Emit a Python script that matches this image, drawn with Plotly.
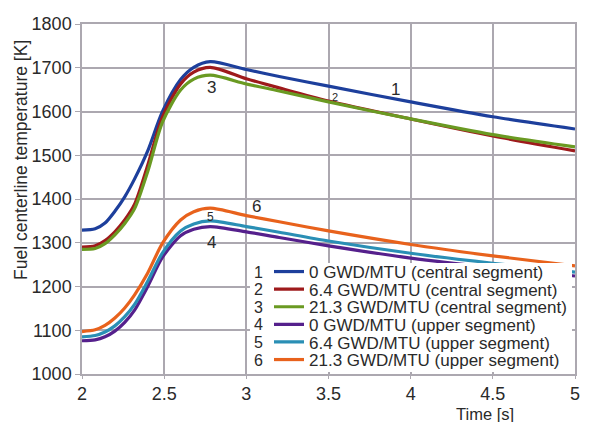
import plotly.graph_objects as go

# ---------------- data ----------------
time_s = [2.0, 2.08, 2.14, 2.2, 2.26, 2.32, 2.4, 2.49, 2.6, 2.68, 2.78, 3.0, 3.2, 3.5, 4.0, 4.5, 5.0]

central_0 = [1329, 1332, 1345, 1372, 1405, 1446, 1510, 1600, 1673, 1701, 1714, 1696, 1680, 1658, 1622, 1588, 1560]
central_64 = [1290, 1293, 1305, 1325, 1352, 1388, 1477, 1588, 1663, 1690, 1701, 1675, 1654, 1624, 1583, 1544, 1510]
central_213 = [1285, 1287, 1298, 1318, 1344, 1378, 1463, 1576, 1649, 1674, 1683, 1663, 1647, 1622, 1583, 1547, 1519]
upper_0 = [1076, 1078, 1085, 1098, 1118, 1146, 1200, 1267, 1316, 1331, 1337, 1325, 1312, 1293, 1265, 1243, 1224]
upper_64 = [1085, 1088, 1096, 1110, 1131, 1159, 1212, 1277, 1327, 1343, 1350, 1337, 1324, 1304, 1276, 1253, 1233]
upper_213 = [1097, 1101, 1111, 1128, 1151, 1181, 1231, 1299, 1352, 1371, 1379, 1362, 1348, 1327, 1296, 1270, 1247]

series_names = [
    "0 GWD/MTU (central segment)",
    "6.4 GWD/MTU (central segment)",
    "21.3 GWD/MTU (central segment)",
    "0 GWD/MTU (upper segment)",
    "6.4 GWD/MTU (upper segment)",
    "21.3 GWD/MTU (upper segment)",
]
series_values = [central_0, central_64, central_213, upper_0, upper_64, upper_213]
series_numbers = ["1", "2", "3", "4", "5", "6"]
series_colors = ["#1d3f9c", "#9e1a1c", "#6a9a22", "#55208c", "#2a8fb5", "#e8621c"]

# in-plot curve labels: (number, time, temperature, size)
curve_labels = [
    ("1", 3.905, 1651, 17),
    ("2", 3.54, 1634, 11),
    ("3", 2.785, 1654, 17),
    ("4", 2.79, 1300, 17),
    ("5", 2.78, 1359, 12),
    ("6", 3.06, 1382, 17),
]

x_ticks = [2, 2.5, 3, 3.5, 4, 4.5, 5]
y_ticks = [1000, 1100, 1200, 1300, 1400, 1500, 1600, 1700, 1800]

# ---------------- figure ----------------
W, H = 592, 422
ML, MR, MT, MB = 82, 17, 24, 48
PW, PH = W - ML - MR, H - MT - MB

FONT = "Liberation Sans, Arial, sans-serif"
TXT = "#2a2a2a"
GRID = "#aca8b0"

def px_x(p):
    return (p - ML) / PW

def px_y(p):
    return (H - MB - p) / PH

fig = go.Figure()

legend_rows_px = [272 + i * 17.6 for i in range(6)]
layout_legends = {}
for i, (name, vals, col) in enumerate(zip(series_names, series_values, series_colors)):
    key = "legend" if i == 0 else f"legend{i + 1}"
    fig.add_trace(go.Scatter(
        x=time_s, y=vals, mode="lines", name=name,
        line=dict(color=col, width=3.2, shape="spline", smoothing=0.8),
        legend=key,
    ))
    layout_legends[key] = dict(
        x=px_x(269), xanchor="left",
        y=px_y(legend_rows_px[i]), yanchor="middle",
        bgcolor="rgba(0,0,0,0)", borderwidth=0,
        font=dict(family=FONT, size=17, color=TXT),
        itemclick=False, itemdoubleclick=False,
    )

annotations = []
for num, t, temp, sz in curve_labels:
    annotations.append(dict(x=t, y=temp, xref="x", yref="y", text=num, showarrow=False,
                            font=dict(family=FONT, size=sz, color=TXT)))
for i, num in enumerate(series_numbers):
    annotations.append(dict(x=px_x(258), y=px_y(legend_rows_px[i]), xref="paper", yref="paper",
                            text=num, showarrow=False, xanchor="center", yanchor="middle",
                            font=dict(family=FONT, size=16, color=TXT)))
annotations.append(dict(x=px_x(485), y=px_y(414), xref="paper", yref="paper", text="Time [s]",
                        showarrow=False, xanchor="center", yanchor="middle",
                        font=dict(family=FONT, size=16.5, color=TXT)))
annotations.append(dict(x=px_x(21), y=px_y(160), xref="paper", yref="paper",
                        text="Fuel centerline temperature [K]", textangle=-90,
                        showarrow=False, xanchor="center", yanchor="middle",
                        font=dict(family=FONT, size=17.5, color=TXT)))

shapes = [
    dict(type="rect", xref="paper", yref="paper", layer="above",
         x0=px_x(250), x1=px_x(572), y0=px_y(372), y1=px_y(263),
         fillcolor="white", line=dict(width=0)),
]

fig.update_layout(
    width=W, height=H,
    margin=dict(l=ML, r=MR, t=MT, b=MB, pad=0),
    paper_bgcolor="white", plot_bgcolor="white",
    font=dict(family=FONT, size=17, color=TXT),
    showlegend=True,
    annotations=annotations,
    shapes=shapes,
    **layout_legends,
)
fig.update_xaxes(
    range=[2, 5], tickvals=x_ticks, ticktext=[f"{v:g}" for v in x_ticks],
    showgrid=True, gridcolor=GRID, gridwidth=1.5,
    showline=True, linecolor=GRID, linewidth=1.5, mirror=True,
    ticks="outside", ticklen=3, tickcolor=GRID,
    zeroline=False, tickfont=dict(family=FONT, size=18, color=TXT),
)
fig.update_yaxes(
    range=[1000, 1800], tickvals=y_ticks,
    showgrid=True, gridcolor=GRID, gridwidth=1.5,
    showline=True, linecolor=GRID, linewidth=1.5, mirror=True,
    ticks="outside", ticklen=5, tickcolor=GRID,
    zeroline=False, tickfont=dict(family=FONT, size=18, color=TXT),
)

fig.write_html("out.html")
